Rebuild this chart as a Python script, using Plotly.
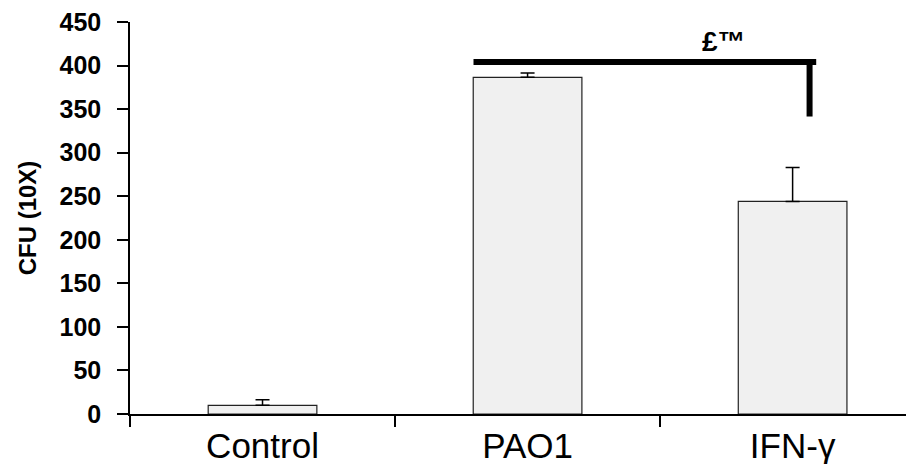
import plotly.graph_objects as go

# ---- data ----
categories = ["Control", "PAO1", "IFN-γ"]
cfu_values = [10, 386.5, 244]
cfu_errors = [6.5, 5, 39]
y_tick_values = [0, 50, 100, 150, 200, 250, 300, 350, 400, 450]
y_title = "CFU (10X)"
sig_label = "£™"
# significance bracket (data coordinates)
bracket_x = [0.796, 2.089]
bracket_y = 404
bracket_drop_x = 2.064
bracket_drop_y = 341.5

fig = go.Figure()
fig.add_trace(go.Bar(
    x=categories,
    y=cfu_values,
    width=0.41,
    marker=dict(color="#f0f0f0", line=dict(color="#222222", width=1.2)),
    error_y=dict(type="data", array=cfu_errors,
                 arrayminus=[0] * len(cfu_errors), symmetric=False,
                 color="black", thickness=1.5, width=7),
    showlegend=False,
))

# bracket
fig.add_shape(type="line", xref="x", yref="y",
              x0=bracket_x[0], x1=bracket_x[1], y0=bracket_y, y1=bracket_y,
              line=dict(color="black", width=6))
fig.add_shape(type="line", xref="x", yref="y",
              x0=bracket_drop_x, x1=bracket_drop_x, y0=bracket_y + 2.5, y1=bracket_drop_y,
              line=dict(color="black", width=6))
fig.add_annotation(x=1.74, y=bracket_y + 3, xref="x", yref="y",
                   text="<b>" + sig_label + "</b>", showarrow=False,
                   yanchor="bottom", xanchor="center",
                   font=dict(family="Liberation Sans, Arial", size=28, color="black"))

# page body has an 8px margin: size/offset the figure so the plot lands where the reference has it
fig.update_layout(
    width=906, height=456,
    margin=dict(l=122, r=0, t=14, b=50, autoexpand=False),
    plot_bgcolor="white", paper_bgcolor="white",
    font=dict(family="Liberation Sans, Arial", color="black"),
)
fig.update_xaxes(
    type="category",
    range=[-0.5, 2.458],
    tickson="boundaries",
    ticks="outside", ticklen=11, tickwidth=1.5, tickcolor="black",
    showline=True, linecolor="black", linewidth=1.5,
    showgrid=False, zeroline=False,
    tickfont=dict(family="Liberation Sans, Arial", size=35, color="black"),
    automargin=False,
    ticklabeloverflow="allow",
)
fig.update_yaxes(
    range=[0, 450],
    tickvals=y_tick_values,
    ticktext=["<b>%d</b>" % v for v in y_tick_values],
    ticks="outside", ticklen=11, tickwidth=1.5, tickcolor="black",
    showline=True, linecolor="black", linewidth=1.5,
    showgrid=False, zeroline=False,
    tickfont=dict(family="Liberation Sans, Arial", size=25, color="black"),
    ticklabelstandoff=11,
    ticklabeloverflow="allow",
    title=dict(text="<b>" + y_title + "</b>", font=dict(family="Liberation Sans, Arial", size=24, color="black"),
               standoff=16),
    automargin=False,
)

fig.write_html("out.html")
